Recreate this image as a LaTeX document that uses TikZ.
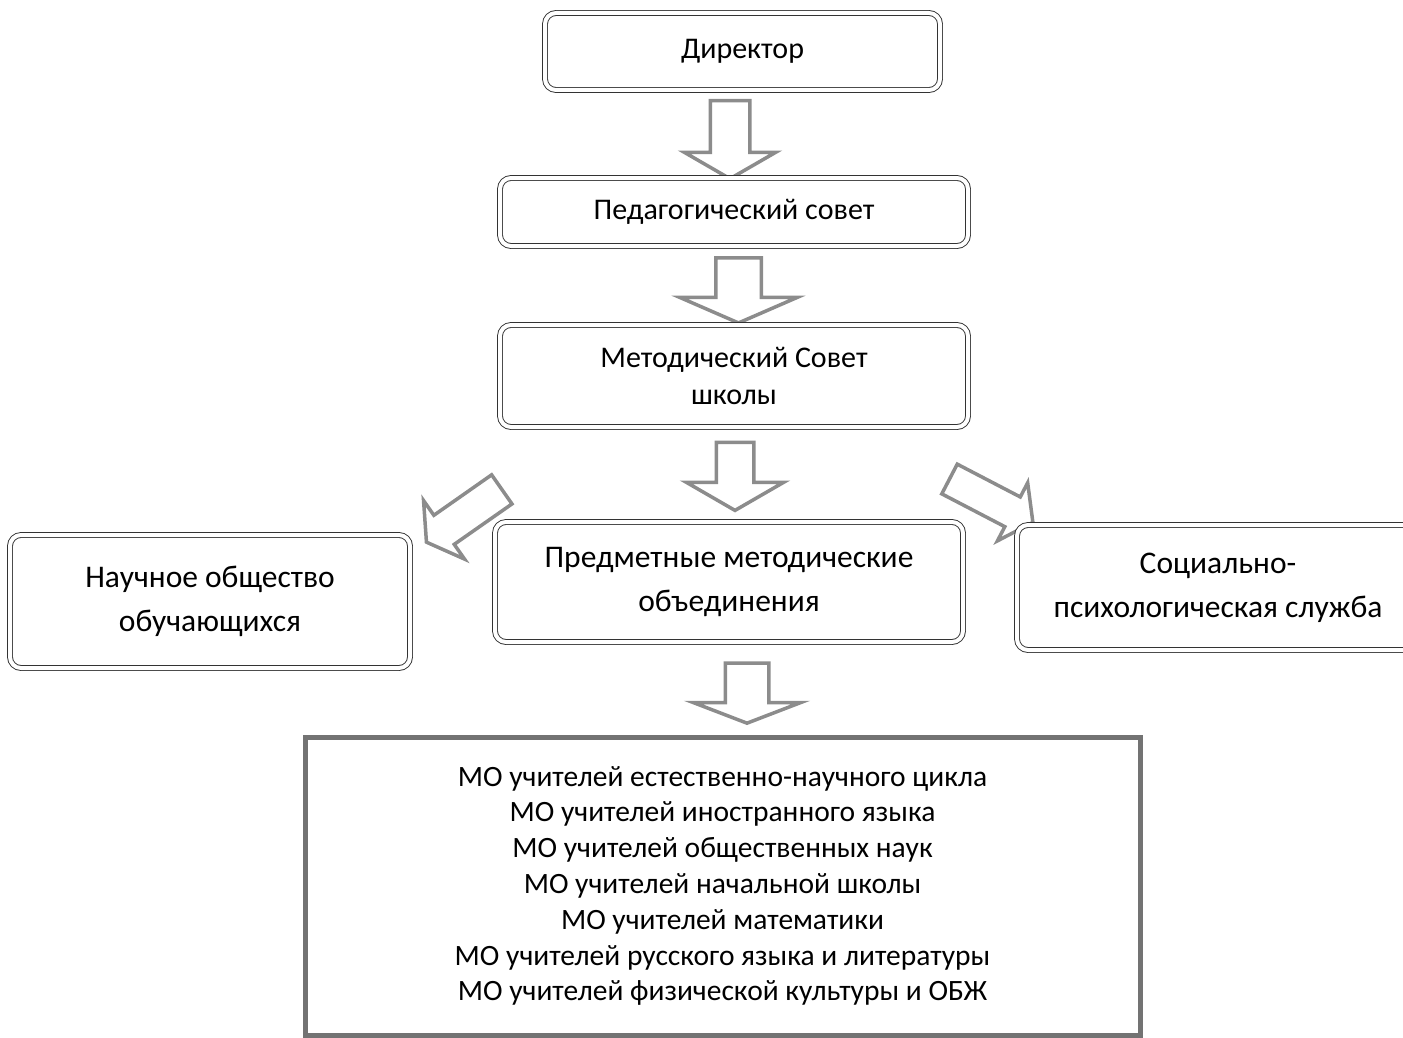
\documentclass[tikz,border=0pt]{standalone}
\usepackage{fontspec}
\setmainfont{Carlito}
\usetikzlibrary{shapes.arrows}

\tikzset{
  dblbox/.style={draw=black!80, line width=0.9pt, double=white, double distance=4pt,
    rounded corners=11pt, align=center, inner sep=0pt},
  bigarrow/.style={single arrow, draw=black!45, line width=3.5pt, fill=white,
    inner xsep=0pt, minimum width=0pt},
  mobox/.style={draw=black!55, line width=5pt, align=center, inner sep=0pt},
  topfont/.style={font=\fontsize{30}{37}\selectfont},
  midfont/.style={font=\fontsize{31.5}{44}\selectfont},
  lowfont/.style={font=\fontsize{29.5}{35.8}\selectfont},
}

\begin{document}
\begin{tikzpicture}[x=1pt,y=1pt,yscale=-1]
\useasboundingbox (0,0) rectangle (1403,1038);

% top part
\node (dir) [dblbox, topfont, minimum width=395, minimum height=77] at (742.5, 51.5) {Директор};
\node (a1) [bigarrow, inner ysep=18pt, minimum height=78pt, single arrow head extend=26pt,
  single arrow tip angle=120, rotate=-90] at (730, 134) {};
\node (ped) [dblbox, topfont, minimum width=468, minimum height=68] at (734, 212) {Педагогический совет};
\node (a2) [bigarrow, inner ysep=21pt, minimum height=65pt, single arrow head extend=36pt,
  single arrow tip angle=133, rotate=-90] at (738.5, 285.5) {};
\node (met) [dblbox, topfont, minimum width=468, minimum height=102] at (734, 376) {Методический Совет\\школы};

% middle part
\node (a3) [bigarrow, inner ysep=17pt, minimum height=68pt, single arrow head extend=30pt,
  single arrow tip angle=120, rotate=-90] at (735, 471) {};
\node (a3l) [bigarrow, inner ysep=16pt, minimum height=92pt, single arrow head extend=18pt,
  single arrow tip angle=118, rotate=215] at (468.5, 512.7) {};
\node (a3r) [bigarrow, inner ysep=15pt, minimum height=94pt, single arrow head extend=16pt,
  single arrow tip angle=110, rotate=-27.5] at (986, 498) {};

\node (nauch) [dblbox, midfont, minimum width=400, minimum height=133] at (210, 601.5) {Научное общество\\обучающихся};
\node (pmo) [dblbox, midfont, minimum width=468, minimum height=120] at (729, 582) {Предметные методические\\объединения};
\node (soc) [dblbox, midfont, minimum width=402, minimum height=125] at (1218, 587.5) {Социально-\\психологическая служба};

% bottom part
\node (a4) [bigarrow, inner ysep=20pt, minimum height=60pt, single arrow head extend=32pt,
  single arrow tip angle=138, rotate=-90] at (747, 689) {};
\node (mo) [mobox, lowfont, minimum width=835, minimum height=298] at (722.5, 886) {%
  МО учителей естественно-научного цикла\\
  МО учителей иностранного языка\\
  МО учителей общественных наук\\
  МО учителей начальной школы\\
  МО учителей математики\\
  МО учителей русского языка и литературы\\
  МО учителей физической культуры и ОБЖ};

\end{tikzpicture}
\end{document}
